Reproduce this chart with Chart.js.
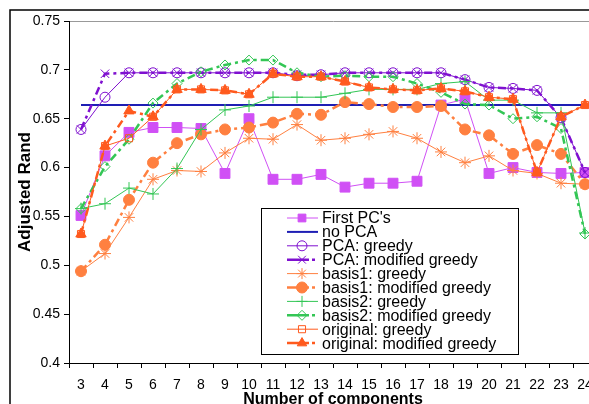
<!DOCTYPE html>
<html>
<head>
<meta charset="utf-8">
<script src="https://cdn.jsdelivr.net/npm/chart.js@4"></script>
<style>
  html, body { margin: 0; padding: 0; background: #fff; overflow: hidden; }
  #wrap { position: absolute; left: 0; top: 0; width: 610px; height: 420px; }
</style>
</head>
<body>
<div id="wrap"><canvas id="randChart" width="610" height="420"></canvas></div>
<script>
const components = ['3','4','5','6','7','8','9','10','11','12','13','14','15','16','17','18','19','20','21','22','23','24'];
const yTicks = [0.4, 0.45, 0.5, 0.55, 0.6, 0.65, 0.7, 0.75];

const firstPCs      = [0.551,0.612,0.636,0.641,0.641,0.640,0.594,0.650,0.588,0.588,0.593,0.580,0.584,0.584,0.586,0.664,0.670,0.594,0.600,0.595,0.594,0.595];
const noPCA         = [0.664,0.664,0.664,0.664,0.664,0.664,0.664,0.664,0.664,0.664,0.664,0.664,0.664,0.664,0.664,0.664,0.664,0.664,0.664,0.664,0.664,0.664];
const pcaGreedy     = [0.639,0.672,0.697,0.697,0.697,0.697,0.697,0.697,0.697,0.694,0.695,0.697,0.697,0.697,0.697,0.697,0.690,0.682,0.681,0.679,0.651,0.595];
const pcaModified   = [0.639,0.696,0.697,0.697,0.697,0.697,0.697,0.697,0.697,0.695,0.695,0.697,0.697,0.697,0.697,0.697,0.690,0.682,0.681,0.679,0.651,0.595];
const basis1Greedy  = [0.494,0.512,0.549,0.588,0.597,0.596,0.615,0.630,0.629,0.644,0.628,0.630,0.634,0.637,0.630,0.616,0.605,0.612,0.597,0.594,0.584,0.583];
const basis1Mod     = [0.494,0.521,0.567,0.605,0.625,0.634,0.639,0.641,0.646,0.655,0.654,0.667,0.665,0.662,0.662,0.663,0.639,0.633,0.614,0.623,0.614,0.583];
const basis2Greedy  = [0.558,0.563,0.579,0.573,0.599,0.639,0.659,0.663,0.672,0.672,0.672,0.676,0.680,0.680,0.680,0.686,0.688,0.669,0.669,0.656,0.656,0.533];
const basis2Mod     = [0.558,0.601,0.629,0.666,0.686,0.698,0.705,0.710,0.710,0.697,0.693,0.694,0.693,0.693,0.686,0.677,0.665,0.664,0.650,0.652,0.640,0.532];
const origGreedy    = [0.532,0.622,0.630,0.652,0.680,0.680,0.679,0.675,0.696,0.693,0.693,0.688,0.682,0.680,0.679,0.681,0.678,0.672,0.670,0.595,0.652,0.664];
const origModified  = [0.532,0.622,0.658,0.652,0.680,0.680,0.679,0.675,0.696,0.693,0.693,0.688,0.682,0.680,0.679,0.681,0.678,0.672,0.670,0.595,0.652,0.664];

const MAGENTA = '#D050F5', BLUE = '#1E1EB4', PURPLE = '#7F10D0';
const ORANGE = '#FF8040', GREEN = '#33C655', RED = '#FF5A1E';
const NONE = 'rgba(255,255,255,0)';
const DASH = [8, 4, 3, 4];
const FONT = '"Liberation Sans", Arial, sans-serif';

function series(label, data, color, opts) {
    return Object.assign({
        label: label,
        data: data,
        borderColor: color,
        backgroundColor: color,
        pointBorderColor: color,
        pointBackgroundColor: color,
        borderWidth: 1,
        pointBorderWidth: 1,
        pointRadius: 5,
        pointStyle: 'circle',
        tension: 0
    }, opts);
}

const datasets = [
    series("First PC's", firstPCs, MAGENTA, { pointStyle: 'rect', pointRadius: 7 }),
    series('no PCA', noPCA, BLUE, { borderWidth: 2, pointRadius: 0 }),
    series('PCA: greedy', pcaGreedy, PURPLE, { pointBackgroundColor: NONE, pointRadius: 5 }),
    series('PCA: modified greedy', pcaModified, PURPLE, { pointStyle: 'crossRot', borderWidth: 2.5, borderDash: DASH, pointRadius: 6 }),
    series('basis1: greedy', basis1Greedy, ORANGE, { pointStyle: 'star', pointRadius: 6 }),
    series('basis1: modified greedy', basis1Mod, ORANGE, { borderWidth: 2.5, borderDash: DASH, pointRadius: 5.5 }),
    series('basis2: greedy', basis2Greedy, GREEN, { pointStyle: 'cross', pointRadius: 6 }),
    series('basis2: modified greedy', basis2Mod, GREEN, { pointStyle: 'rectRot', pointBackgroundColor: NONE, borderWidth: 2.5, borderDash: DASH, pointRadius: 5 }),
    series('original: greedy', origGreedy, RED, { pointStyle: 'rect', pointBackgroundColor: NONE, pointRadius: 5 }),
    series('original: modified greedy', origModified, RED, { pointStyle: 'triangle', borderWidth: 2.5, borderDash: DASH, pointRadius: 6 })
];
// later series are painted over earlier ones
datasets.forEach((d, i) => { d.order = -i; });

// white page, outer chart frame
const frame = {
    id: 'frame',
    beforeDraw(chart) {
        const ctx = chart.ctx;
        ctx.save();
        ctx.fillStyle = '#fff';
        ctx.fillRect(0, 0, chart.width, chart.height);
        ctx.strokeStyle = '#000';
        ctx.lineWidth = 1.5;
        ctx.strokeRect(10, 10, chart.width, chart.height);
        ctx.restore();
    }
};

// boxed legend sitting inside the plot area
const boxLegend = {
    id: 'boxLegend',
    afterDraw(chart) {
        const ctx = chart.ctx;
        const x0 = 261, y0 = 208, w = 257, h = 146;
        ctx.save();
        ctx.fillStyle = '#fff';
        ctx.fillRect(x0, y0, w, h);
        ctx.strokeStyle = '#000';
        ctx.lineWidth = 1;
        ctx.strokeRect(x0 + 0.5, y0 + 0.5, w, h);
        ctx.font = '16px ' + FONT;
        ctx.textBaseline = 'middle';
        chart.data.datasets.forEach((ds, i) => {
            const y = 218 + i * 13.9;
            ctx.save();
            ctx.strokeStyle = ds.borderColor;
            ctx.lineWidth = ds.borderWidth;
            ctx.setLineDash(ds.borderDash ? [22, 3, 3, 3] : []);
            ctx.beginPath();
            ctx.moveTo(287, y);
            ctx.lineTo(318, y);
            ctx.stroke();
            ctx.restore();
            if (ds.pointRadius > 0) {
                ctx.fillStyle = ds.pointBackgroundColor;
                ctx.strokeStyle = ds.pointBorderColor;
                ctx.lineWidth = 1;
                Chart.helpers.drawPoint(ctx, {
                    pointStyle: ds.pointStyle,
                    rotation: 0,
                    radius: Math.min(ds.pointRadius, 5.5),
                    borderWidth: 1
                }, 302, y);
            }
            ctx.fillStyle = '#000';
            ctx.fillText(ds.label, 322, y + 1);
        });
        ctx.restore();
    }
};

new Chart(document.getElementById('randChart'), {
    type: 'line',
    data: { labels: components, datasets: datasets },
    options: {
        responsive: false,
        animation: false,
        devicePixelRatio: 1,
        layout: { padding: { left: 15, top: 21, right: 13, bottom: 11 } },
        plugins: {
            legend: { display: false },
            tooltip: { enabled: false }
        },
        scales: {
            x: {
                type: 'category',
                offset: true,
                afterFit: s => { s.height = 46; },
                grid: { offset: true, drawOnChartArea: false, tickLength: 5, tickColor: '#000' },
                border: { color: '#000', width: 1 },
                ticks: { color: '#000', padding: 9, maxRotation: 0, autoSkip: false,
                         font: { family: FONT, size: 14 } },
                title: { display: true, text: 'Number of components', color: '#000',
                         padding: 0,
                         font: { family: FONT, size: 16, weight: 'bold' } }
            },
            y: {
                min: 0.4,
                max: 0.75,
                afterFit: s => { s.width = 69 - 15; },
                afterBuildTicks: s => { s.ticks = yTicks.map(v => ({ value: v })); },
                grid: {
                    color: c => (c.tick && c.tick.value === 0.75 ? '#999' : 'rgba(0,0,0,0)'),
                    tickColor: '#000',
                    tickLength: 5
                },
                border: { color: '#000', width: 1 },
                ticks: { color: '#000', padding: 4,
                         callback: v => String(Number(v.toFixed(2))),
                         font: { family: FONT, size: 14 } },
                title: { display: true, text: 'Adjusted Rand', color: '#000',
                         padding: 0,
                         font: { family: FONT, size: 17, weight: 'bold' } }
            }
        }
    },
    plugins: [frame, boxLegend]
});
</script>
</body>
</html>
